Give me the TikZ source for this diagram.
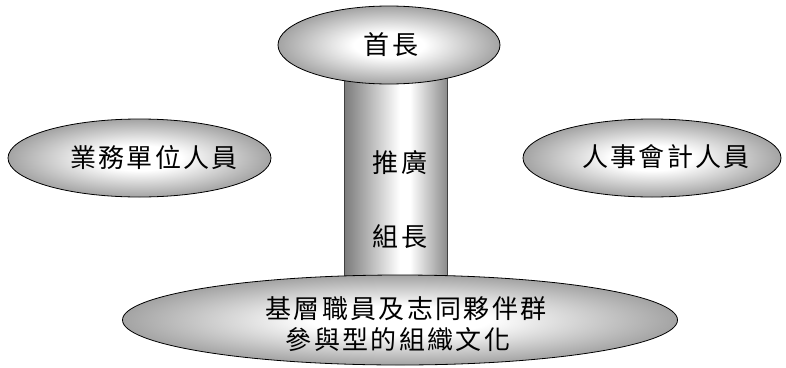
\documentclass[tikz,border=0pt]{standalone}
\usepackage{fontspec}
\usetikzlibrary{shapes.geometric}
\newfontfamily\cjk[LetterSpace=9]{Noto Sans CJK TC}
\pgfdeclareradialshading{ellshade}{\pgfpoint{0bp}{0bp}}{color(0bp)=(white); color(8bp)=(white); color(25bp)=(black!36); color(50bp)=(black!36)}
\pgfdeclarehorizontalshading{colshade}{100bp}{color(0bp)=(black!52); color(25bp)=(black!52); color(52bp)=(white); color(57bp)=(white); color(75bp)=(black!45); color(100bp)=(black!45)}
\tikzset{
  ell/.style={ellipse, draw=black, line width=0.8pt, shading=ellshade, inner sep=0pt},
  colbox/.style={rectangle, draw=black!75, line width=0.8pt, shading=colshade, inner sep=0pt},
  lbl/.style={font=\cjk\fontsize{26}{34}\selectfont, inner sep=0pt, align=center}
}
\begin{document}
\begin{tikzpicture}[x=1pt,y=-1pt]
\useasboundingbox (0,0) rectangle (786,367);
% column
\node[colbox, minimum width=103pt, minimum height=220pt] (col) at (395.5,180) {};
% ellipses
\node[ell, minimum width=222pt, minimum height=78pt] (top) at (389,45) {};
\node[ell, minimum width=263pt, minimum height=78pt] (left) at (139.5,158) {};
\node[ell, minimum width=258pt, minimum height=78pt] (right) at (652,158) {};
\node[ell, minimum width=555pt, minimum height=90pt] (bot) at (400,320) {};
% texts
\node[lbl] (ttop) at (391,45) {首長};
\node[lbl] (tpush) at (400,163) {推廣};
\node[lbl] (tlead) at (400,237) {組長};
\node[lbl] (tleft) at (154,158) {業務單位人員};
\node[lbl] (tright) at (666,157) {人事會計人員};
\node[lbl] (tb1) at (406,309) {基層職員及志同夥伴群};
\node[lbl] (tb2) at (398,340) {參與型的組織文化};
\end{tikzpicture}
\end{document}
